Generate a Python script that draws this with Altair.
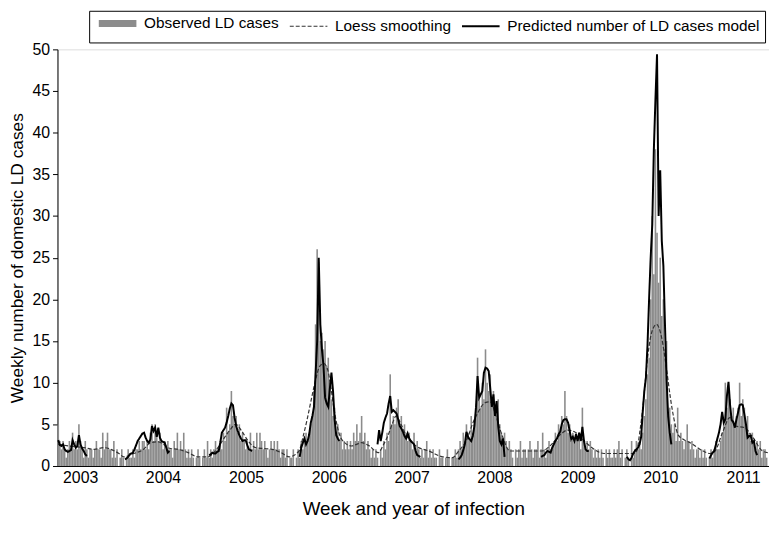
import altair as alt
import pandas as pd

START = pd.Timestamp("2002-09-23")
N_WEEKS = 448
FONT = "Liberation Sans, Arial, sans-serif"

# Observed weekly LD cases (week index 0 = first bar)
observed = [
    5,3,2,3,2,1,2,3,2,4, 2,3,2,5,3,2,1,3,2,1, 2,2,1,2,3,2,2,1,4,2, 3,4,2,2,1,3,1,2,0,1, 2,
    1,0,1,2,1,1,2,1,2,2, 3,2,3,3,2,3,2,4,5,3, 5,4,3,4,3,2,3,2,3,2, 2,1,3,2,4,
    2,3,2,4,2,1,2,1,2,1, 0,1,2,1,0,1,2,1,3,1, 2,1,2,3,2,
    2,3,2,4,3,7,4,5,9,6, 5,6,4,5,3,4,3,2,3,2, 4,2,3,2,4,
    2,4,3,2,3,2,1,2,3,2, 3,2,3,2,1,2,2,1,2,0, 1,1,2,0,1,
    2,1,3,2,3,4,3,4,5,6, 9,17,26,20,15,16,14,15,12,13, 10,8,6,7,4,5,3,4,2,3,
    2,3,2,3,2,4,3,5,3,4, 6,3,4,2,3,2,1,2,1,2, 1,0,2,1,3,
    2,4,3,11,5,6,5,7,8,5, 6,4,5,4,3,4,3,2,4,2, 3,2,1,2,1,2,3,1,2,1,
    2,1,1,0,2,1,1,0,1,2, 1,0,1,1,2,1,2,3,2,4,
    3,5,4,3,6,4,5,7,13,8, 7,10,8,14,10,9,11,8,9,7, 6,8,5,4,3,4,3,2,3,2,
    1,0,2,1,2,3,1,2,2,1, 2,3,2,1,2,2,3,1,2,4, 2,1,2,3,2,
    2,3,4,3,5,4,6,5,9,6, 4,5,3,4,3,4,3,4,2,7, 3,2,3,2,3,
    2,1,2,1,2,1,2,1,0,2, 1,2,1,1,2,1,2,3,1,2, 0,1,2,1,0,3,1,2,3,2,
    3,2,4,6,8,11,13,20,30,23, 38,28,22,25,18,20,14,15,6,7, 5,4,5,3,7,
    3,4,3,2,3,5,3,2,3,2, 1,2,2,1,2,1,2,1,0,1, 2,1,2,3,2,
    2,3,4,5,10,7,9,8,6,7, 5,6,7,10,6,8,7,5,6,4, 3,4,3,2,3,2,3,1,2,2, 1,
]

# Predicted model, one segment per season: (first week index, weekly values)
predicted_segments = [
    (0, [3.1,2.5,2.4,2.6,2.0,1.8,1.7,1.8,1.9,3.1,2.6,2.2,2.4,3.7,2.6,2.1,1.8,1.4,1.2]),
    (42, [0.8,0.9,1.1,1.4,1.5,1.6,2.0,2.5,3.0,3.3,3.6,3.9,4.0,3.4,3.0,2.8,3.2,4.8,4.2,4.6,
          3.5,4.6,3.4,3.0,2.9,2.8,2.2,1.6,1.8]),
    (95, [1.3,1.4,1.6,1.5,1.5,1.7,1.8,2.8,4.0,4.3,4.6,5.2,6.0,6.9,7.5,7.3,5.8,4.8,4.2,3.7,
          3.3,3.0,3.1,3.1,2.5,2.0,1.9,1.8]),
    (152, [1.1,2.2,2.8,3.3,2.6,3.0,3.8,5.2,6.0,7.1,11,15,25,17,14,12,8.2,7.5,7.1,9.3,
           11.2,9.0,5.6,3.7,3.3,3.0]),
    (201, [2.6,4.3,3.0,4.0,5.2,5.8,6.3,7.5,8.4,6.5,6.7,6.5,6.3,5.6,4.8,4.5,4.1,3.6,3.3,3.9,
           3.3,3.0,2.8,2.6,1.8,1.3,1.2,1.1]),
    (252, [0.8,1.0,1.3,1.9,2.6,4.1,3.5,3.2,3.0,3.6,4.8,7.0,10.8,8.2,8.6,9.0,11.2,11.8,11.7,11.4,
           9.3,7.1,8.6,6.0,7.8,4.8,3.0,2.6,3.3,1.1]),
    (304, [1.1,1.2,1.3,1.6,1.8,1.7,1.6,2.2,2.6,3.0,3.3,3.8,4.1,5.0,5.5,5.6,5.6,5.2,4.2,3.2,
           3.5,3.0,3.8,3.0,4.0,3.0,4.7,3.0,2.0,1.8,1.8]),
    (358, [1.1,0.8,0.7,1.0,1.5,1.8,2.0,2.2,2.6,3.5,6.5,9.0,10.6,14.5,20,25,29,38,44,49.4,
           30,35.5,27,24,17,10.4,6,4,2.6]),
    (410, [0.9,1.3,1.6,1.8,2.5,3.3,4.0,5.0,6.5,5.2,5.6,8.4,10.1,7.3,5.5,5.3,4.6,5.6,6.4,7.3,
           7.4,7.3,6.2,5.0,3.4,3.6,3.6,2.8,3.0,1.8,1.3]),
]

# Loess smoothing curve, read at these week positions
loess_week = [0, 7, 16.3, 22.6, 28.8, 33.2, 38.2, 41.3, 47.5, 53.7, 58.1, 63.1, 66.2, 70.6, 75.6,
              81.8, 88, 94.3, 97.4, 100.5, 103.6, 108, 111.7, 115.5, 119.2, 124.2, 129.2, 134.8,
              140.4, 145.4, 151.6, 154.1, 156.6, 159.1, 161.6, 164.7, 167.2, 169.7, 171.6, 173.5,
              175.4, 177.2, 180.3, 184.7, 187.8, 190.9, 195.9, 201.5, 204.6, 207.7, 210.2, 212.7,
              215.8, 219, 225.2, 233.3, 242.1, 248.3, 252.1, 257.6, 260.7, 263.9, 268.8, 272,
              275.1, 279.4, 284.4, 291.9, 304.4, 310.6, 316.9, 320.6, 325, 331.2, 337.4, 343.6,
              362.4, 364.2, 366.1, 368.6, 370.5, 373.6, 376.7, 379.8, 383, 385.4, 387.3, 390.4,
              393.5, 397.9, 406, 410.4, 413.5, 418.4, 422.8, 426.5, 432.1, 437.1, 443.4, 447]
loess_value = [2.6, 2.4, 2.2, 2.0, 2.2, 2.0, 1.5, 1.1, 1.5, 2.0, 2.8, 2.9, 2.6, 2.1, 2.0, 1.6, 1.1,
               1.1, 1.5, 2.2, 3.1, 4.3, 5.0, 4.2, 3.1, 2.2, 2.1, 2.0, 1.6, 1.1, 1.8, 3.5, 5.5, 7.8,
               10.0, 12.0, 12.3, 11.5, 9.5, 7.0, 5.0, 3.7, 2.8, 2.4, 2.6, 2.8, 2.4, 1.6, 2.5, 3.7,
               5.0, 6.0, 5.0, 3.7, 2.4, 1.8, 1.1, 1.0, 1.8, 3.3, 5.0, 6.3, 7.6, 7.7, 6.3, 3.7, 1.8,
               1.8, 1.8, 2.6, 3.9, 4.3, 4.1, 3.0, 2.0, 1.5, 1.5, 1.8, 4.0, 8.0, 12.0, 16.0, 17.0,
               15.5, 11.6, 8.2, 6.0, 3.7, 3.2, 2.8, 1.8, 1.5, 1.8, 4.1, 5.8, 4.8, 4.6, 3.5, 1.8, 1.6]

SERIES = ["Observed LD cases", "Loess smoothing", "Predicted number of LD cases model"]

def week_date(w):
    return START + pd.to_timedelta(w * 7, unit="D")

obs_df = pd.DataFrame({
    "start": [week_date(i) for i in range(len(observed))],
    "end": [week_date(i + 1) for i in range(len(observed))],
    "cases": observed,
})

rows = []
for k, (w0, vals) in enumerate(predicted_segments):
    for j, v in enumerate(vals):
        rows.append({"date": week_date(w0 + j + 0.5), "value": v, "series": SERIES[2], "seg": f"p{k}"})
pred_df = pd.DataFrame(rows)
loess_df = pd.DataFrame({
    "date": [week_date(w + 0.5) for w in loess_week],
    "value": loess_value,
    "series": SERIES[1],
    "seg": "loess",
})

x_scale = alt.Scale(domain=[week_date(0).isoformat(), week_date(N_WEEKS).isoformat()], nice=False)
y_scale = alt.Scale(domain=[0, 50], nice=False)

x_axis = alt.Axis(title="Week and year of infection", format="%Y", tickCount="year", ticks=False,
                  grid=False, labelFontSize=16, titleFontSize=19, labelPadding=4, titlePadding=14,
                  domainColor="black", labelColor="black", titleColor="black", titleFontWeight="normal",
                  labelFont=FONT, titleFont=FONT)
y_axis = alt.Axis(title="Weekly number of domestic LD cases", values=list(range(0, 51, 5)), grid=False,
                  labelFontSize=16, titleFontSize=17.5, tickSize=5, labelPadding=3, titlePadding=6,
                  domainColor="black", tickColor="black", labelColor="black", titleColor="black",
                  titleFontWeight="normal", labelFont=FONT, titleFont=FONT)

color_scale = alt.Scale(domain=SERIES, range=["#8c8c8c", "#333333", "#000000"])
dash_scale = alt.Scale(domain=SERIES, range=[[1, 0], [4, 2], [1, 0]])
width_scale = alt.Scale(type="ordinal", domain=SERIES, range=[7, 1.2, 2])
legend = alt.Legend(title=None, orient="none", legendX=32, legendY=-39, direction="horizontal",
                    columns=3, strokeColor="black", fillColor="white", padding=5,
                    symbolType="M-1.5,0L17.5,0", symbolSize=16, labelFontSize=15.5, labelFont=FONT,
                    labelColor="black", columnPadding=6, labelOffset=35, labelLimit=400)

bars = alt.Chart(obs_df).mark_bar(color="#8c8c8c").encode(
    x=alt.X("start:T", scale=x_scale, axis=x_axis),
    x2="end:T",
    y=alt.Y("cases:Q", scale=y_scale, axis=y_axis),
    y2=alt.datum(0),
)

def line_layer(df, interp):
    return alt.Chart(df).mark_line(interpolate=interp, strokeCap="butt").encode(
        x=alt.X("date:T", scale=x_scale),
        y=alt.Y("value:Q", scale=y_scale),
        color=alt.Color("series:N", scale=color_scale, legend=legend),
        strokeDash=alt.StrokeDash("series:N", scale=dash_scale, legend=legend),
        strokeWidth=alt.StrokeWidth("series:N", scale=width_scale, legend=legend),
        detail="seg:N",
    )

chart = alt.layer(bars, line_layer(loess_df, "monotone"), line_layer(pred_df, "linear")).properties(
    width=719, height=421,
    autosize=alt.AutoSizeParams(type="none"),
    padding={"left": 50, "top": 39, "right": 0, "bottom": 75},
).configure_view(strokeWidth=0).configure(background="white")

chart.save("out.html", embed_options={"renderer": "svg", "actions": False})
